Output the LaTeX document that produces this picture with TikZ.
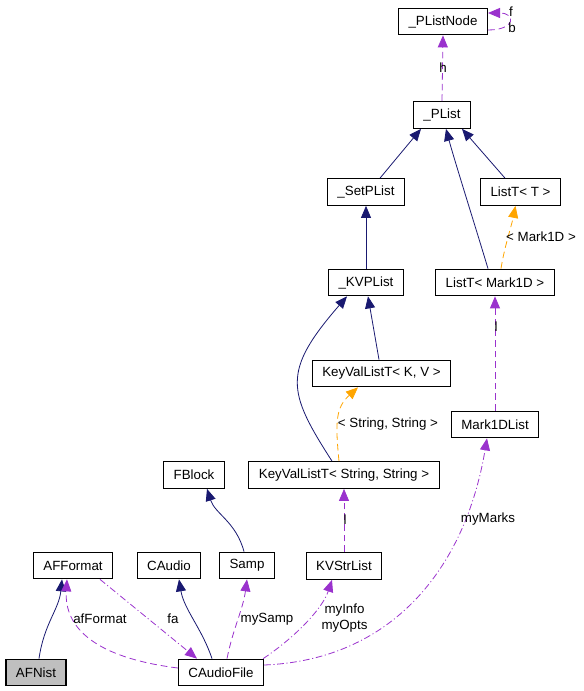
\documentclass[tikz,border=0pt]{standalone}
\usepackage{fontspec}
\setmainfont{Liberation Sans}
\usetikzlibrary{arrows.meta,calc}

\definecolor{edgeblue}{HTML}{191970}
\definecolor{edgepurple}{HTML}{9A32CD}
\definecolor{edgeorange}{HTML}{FFA500}

\begin{document}
\begin{tikzpicture}[x=0.75pt,y=-0.75pt,
    font=\fontsize{10pt}{12pt}\selectfont,
    cls/.style={draw=black,line width=0.8pt,fill=white,minimum height=20pt,inner xsep=7.5pt,inner ysep=0pt},
    lbl/.style={inner sep=0pt},
    tip/.style={-{Triangle[length=9pt,width=7.5pt]}},
    inherit/.style={tip,draw=edgeblue,line width=0.6pt},
    uses/.style={tip,draw=edgepurple,line width=0.6pt,dash pattern=on 5pt off 3pt},
    usesdot/.style={tip,draw=edgepurple,line width=0.6pt,dash pattern=on 5pt off 2pt on 0.8pt off 2pt},
    templ/.style={tip,draw=edgeorange,line width=0.6pt,dash pattern=on 5pt off 3pt}]
  \useasboundingbox (0,0) rectangle (583,691);

  \node[cls] (pln) at (443,21.5) {\_PListNode};
  \node[cls] (plist) at (442,115) {\_PList};
  \node[cls] (setp) at (366,192) {\_SetPList};
  \node[cls] (listt) at (520.5,192) {ListT< T >};
  \node[cls] (kvp) at (366,282.5) {\_KVPList};
  \node[cls] (listm) at (495,282.5) {ListT< Mark1D >};
  \node[cls] (kvlkv) at (381.5,373.5) {KeyValListT< K, V >};
  \node[cls] (m1d) at (495,424.5) {Mark1DList};
  \node[cls] (fblock) at (194,475) {FBlock};
  \node[cls] (kvlss) at (344,475) {KeyValListT< String, String >};
  \node[cls] (afformat) at (73,565.5) {AFFormat};
  \node[cls] (caudio) at (169,565.5) {CAudio};
  \node[cls] (samp) at (247,565.5) {Samp};
  \node[cls] (kvstr) at (344,566) {KVStrList};
  \node[cls,fill=black!25] (afnist) at (36,672.5) {AFNist};
  \node[cls] (cafile) at (221,672.5) {CAudioFile};

  \draw[uses] (plist.north) -- (pln.south);
  \draw[uses] ($(pln.east)+(0,8.5)$) .. controls +(28,0) and +(28,0) .. ($(pln.east)+(0,-8.5)$);
  \draw[inherit] ($(setp.north)+(14,0)$) -- ($(plist.south)+(-21,0)$);
  \draw[inherit] ($(listt.north)+(-15.5,0)$) -- ($(plist.south)+(20,0)$);
  \draw[inherit] ($(listm.north)+(-7,0)$) .. controls +(-12,-40) and +(8,30) .. ($(plist.south)+(4,0)$);
  \draw[templ] ($(listm.north)+(6,0)$) .. controls +(3,-20) and +(-4,20) .. ($(listt.south)+(-5,0)$);
  \draw[inherit] (kvp.north) -- (setp.south);
  \draw[inherit] ($(kvlkv.north)+(-2.5,0)$) -- ($(kvp.south)+(2,0)$);
  \draw[inherit] ($(kvlss.north)+(-12,0)$) .. controls +(-45,-70) and +(-65,75) .. ($(kvp.south)+(-19,0)$);
  \draw[templ] ($(kvlss.north)+(-5,0)$) .. controls +(-4,-40) and +(-22,20) .. ($(kvlkv.south)+(-23.5,0)$);
  \draw[uses] (m1d.north) -- (listm.south);
  \draw[uses] (kvstr.north) -- (kvlss.south);
  \draw[inherit] ($(samp.north)+(-3,0)$) .. controls +(-8,-30) and +(8,25) .. ($(fblock.south)+(13,0)$);
  \draw[inherit] ($(afnist.north)+(3,0)$) .. controls +(5,-35) and +(-3,30) .. ($(afformat.south)+(-11,0)$);
  \draw[uses] ($(cafile.west)+(0,-4.5)$) .. controls +(-80,-10) and +(-3,50) .. ($(afformat.south)+(-6,0)$);
  \draw[usesdot] ($(afformat.south)+(27,0)$) -- ($(cafile.north)+(-24,0)$);
  \draw[inherit] ($(cafile.north)+(-9,0)$) .. controls +(-10,-30) and +(5,30) .. ($(caudio.south)+(10,0)$);
  \draw[uses] ($(cafile.north)+(6,0)$) .. controls +(6,-30) and +(-4,30) .. (samp.south);
  \draw[usesdot] ($(cafile.north east)+(-1,0)$) .. controls +(30,-20) and +(-10,30) .. ($(kvstr.south)+(-12,0)$);
  \draw[usesdot] ($(cafile.east)+(0,-7.5)$) .. controls +(127,-5) and +(-22,131) .. ($(m1d.south)+(-8,0)$);

  \node[lbl] (lh) at (443,68) {h};
  \node[lbl] (lf) at (511,12) {f};
  \node[lbl] (lb) at (512,28) {b};
  \node[lbl] (lmark) at (541,237) {< Mark1D >};
  \node[lbl] (lss) at (388,424) {< String, String >};
  \node[lbl] (ll1) at (496,327) {l};
  \node[lbl] (ll2) at (345,520) {l};
  \node[lbl] (lmarks) at (488,519) {myMarks};
  \node[lbl,align=center] (linfo) at (344.5,618) {myInfo\\myOpts};
  \node[lbl] (laf) at (100,619) {afFormat};
  \node[lbl] (lfa) at (173,619) {fa};
  \node[lbl] (lsamp) at (267,619) {mySamp};
\end{tikzpicture}
\end{document}
